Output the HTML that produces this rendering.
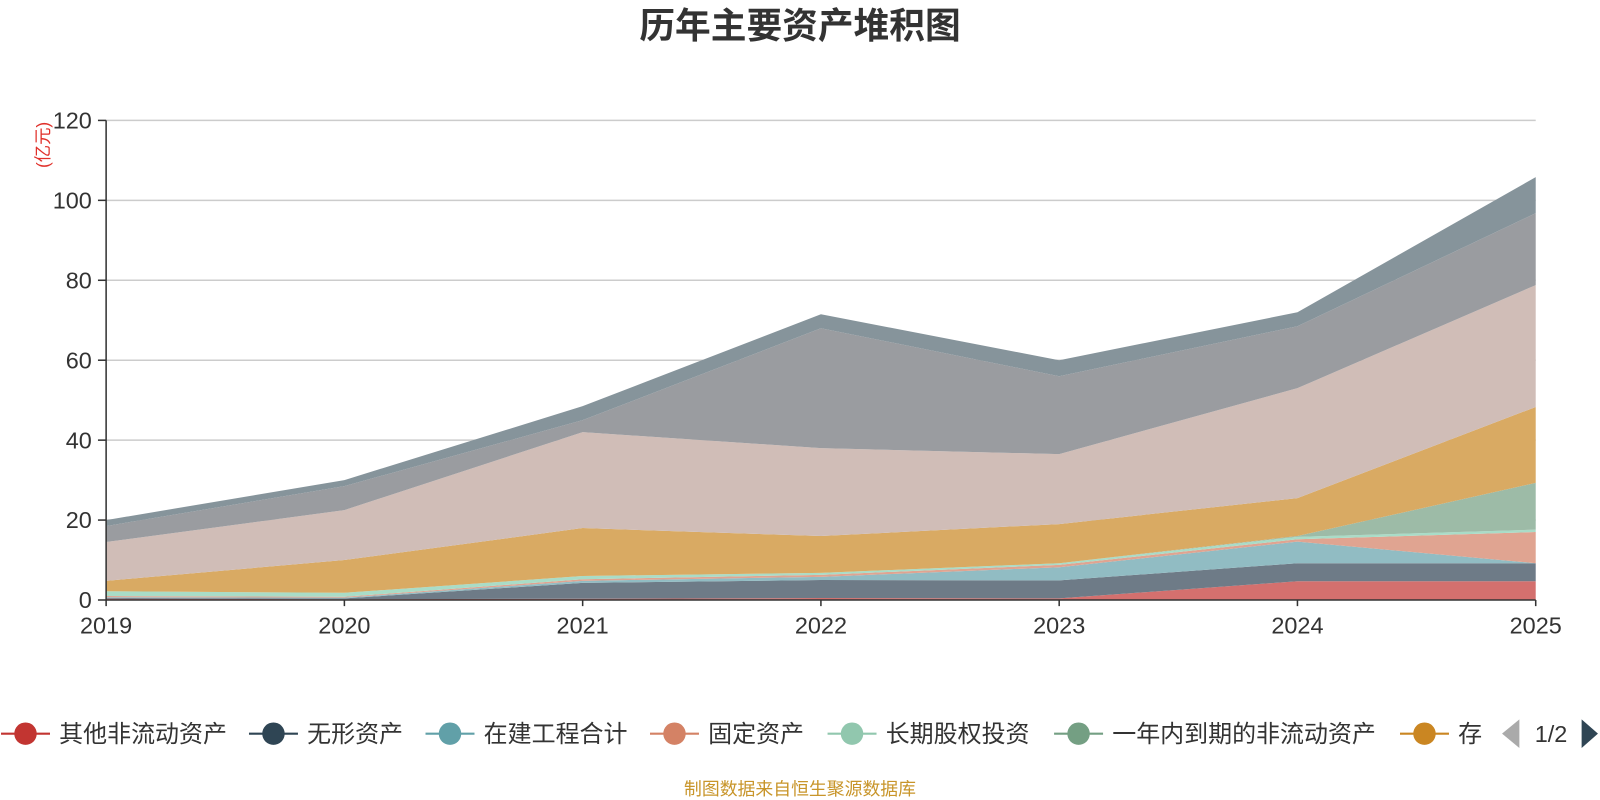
<!DOCTYPE html>
<html><head><meta charset="utf-8"><style>
body{margin:0;background:#fff;}
svg{display:block;font-family:"Liberation Sans","Noto Sans CJK SC",sans-serif;}
</style></head><body>
<svg id="chart" width="1600" height="800" viewBox="0 0 1568 784">
<text x="784" y="37" text-anchor="middle" font-size="35" font-weight="bold" fill="#333">历年主要资产堆积图</text>
<text transform="translate(48,142) rotate(-90)" text-anchor="middle" font-size="17" fill="#e0302a">(亿元)</text>
<g id="grid"></g>
<g id="areas"></g>
<g id="axes"></g>
<g id="legend"></g>
<text x="784" y="779" text-anchor="middle" font-size="17.5" fill="#c8952a">制图数据来自恒生聚源数据库</text>
</svg>
<script>
const years = ['2019','2020','2021','2022','2023','2024','2025'];
const yTicks = [0,20,40,60,80,100,120];
const seriesNames = ['其他非流动资产','无形资产','在建工程合计','固定资产','长期股权投资','一年内到期的非流动资产','存货','应收账款','货币资金','其他资产'];
const sOther   = [0.3,0.2,0.3,0.5,0.4,4.7,4.7];
const sIntang  = [0.2,0.2,4.0,4.5,4.5,4.5,4.5];
const sCip     = [0.2,0.2,0.5,0.8,3.3,5.4,0.0];
const sFixed   = [0.3,0.2,0.4,0.5,0.6,0.6,7.8];
const sEquity  = [1.2,1.0,0.8,0.5,0.4,0.6,0.6];
const sCurNc   = [0.0,0.0,0.0,0.0,0.0,0.2,11.7];
const sInv     = [2.6,8.2,12.0,9.2,9.8,9.5,19.0];
const sRecv    = [9.7,12.5,24.0,22.0,17.5,27.5,30.5];
const sCash    = [4.0,6.0,3.0,30.0,19.5,15.5,18.0];
const sTop     = [1.5,1.5,3.5,3.5,4.0,3.5,9.0];
const seriesData = [sOther,sIntang,sCip,sFixed,sEquity,sCurNc,sInv,sRecv,sCash,sTop];
const fills = ['#d4706e','#6e7b87','#91bcc3','#e0a491','#a9dcc7','#9dbba7','#d9aa63','#d0bdb7','#9a9ca0','#86949b'];
const legendColors = ['#c23531','#2f4554','#61a0a8','#d48265','#91c7ae','#749f83','#ca8622'];

const X0=104,X1=1505,Y0=588,Y1=118;
const xs=i=>X0+(X1-X0)*i/(years.length-1);
const ys=v=>Y0-(Y0-Y1)*v/120;
const NS='http://www.w3.org/2000/svg';
function mk(tag,attrs,parent){const e=document.createElementNS(NS,tag);for(const k in attrs)e.setAttribute(k,attrs[k]);parent.appendChild(e);return e;}
const grid=document.getElementById('grid'),areas=document.getElementById('areas'),axes=document.getElementById('axes'),legend=document.getElementById('legend');

yTicks.forEach(t=>{
  if(t>0){const l=mk('line',{x1:X0,x2:X1,y1:ys(t),y2:ys(t),stroke:'#ccc','stroke-width':1.5},grid);
  
  }
  const tk=mk('line',{x1:X0-8,x2:X0,y1:ys(t),y2:ys(t),stroke:'#333','stroke-width':1.5},axes);
  
  
  const tx=mk('text',{x:X0-14,y:ys(t)+8,'text-anchor':'end','font-size':23,fill:'#333'},axes);
  tx.textContent=t;
  
  
});

let cum=years.map(()=>0);
seriesData.forEach((s,si)=>{
  const lo=cum.slice();
  cum=cum.map((c,i)=>c+s[i]);
  let d='';
  cum.forEach((c,i)=>{d+=(i?'L':'M')+xs(i)+','+ys(c);});
  for(let i=years.length-1;i>=0;i--)d+='L'+xs(i)+','+ys(lo[i]);
  const p=mk('path',{d:d+'Z',fill:fills[si]},areas);
  
  
});

const ya=mk('line',{x1:X0,x2:X0,y1:Y1,y2:Y0,stroke:'#333','stroke-width':1.5},axes);


const xa=mk('line',{x1:X0,x2:X1,y1:Y0,y2:Y0,stroke:'#333','stroke-width':1.5},axes);


years.forEach((y,i)=>{
  const tk=mk('line',{x1:xs(i),x2:xs(i),y1:Y0,y2:Y0+6,stroke:'#333','stroke-width':1.5},axes);
  
  
  const tx=mk('text',{x:xs(i),y:621,'text-anchor':'middle','font-size':23,fill:'#333'},axes);
  tx.textContent=y;
  
  
});

const lc=[25,268,441,661,835,1057,1396];
legendColors.forEach((c,i)=>{
  const g=mk('g',{},legend);
  
  
  mk('line',{x1:lc[i]-24,x2:lc[i]+24,y1:719,y2:719,stroke:c,'stroke-width':2},g);
  mk('circle',{cx:lc[i],cy:719,r:11,fill:c},g);
  const t=mk('text',{x:lc[i]+33,y:727,'font-size':23.5,fill:'#333'},g);
  t.textContent=i<6?seriesNames[i]:'存';
});
const pl=mk('polygon',{points:'1472,719 1489,705 1489,733',fill:'#aaa'},legend);


const pt=mk('text',{x:1520,y:727,'text-anchor':'middle','font-size':23,fill:'#333'},legend);
pt.textContent='1/2';


const pn=mk('polygon',{points:'1566,719 1550,705 1550,733',fill:'#2f4554'},legend);


</script>
</body></html>
